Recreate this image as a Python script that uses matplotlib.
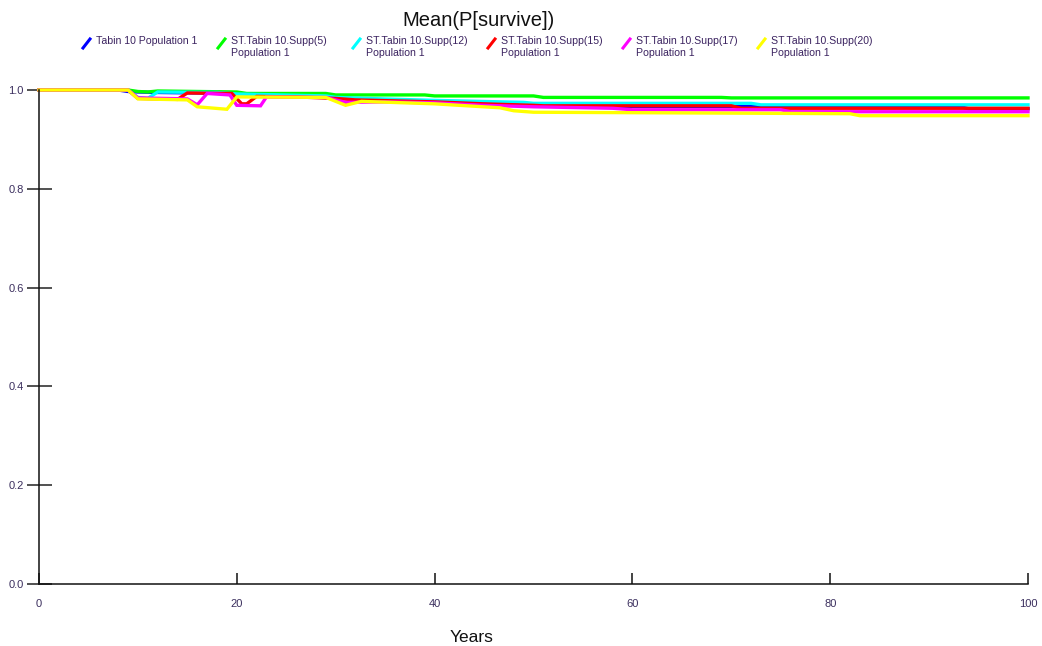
import matplotlib
matplotlib.use("Agg")
import matplotlib.pyplot as plt
from matplotlib.lines import Line2D

plt.rcParams['font.family'] = ['Liberation Sans', 'DejaVu Sans']

# Mean survival probability per scenario: (year, value) breakpoints
series_names = [
    "Tabin 10 Population 1",
    "ST.Tabin 10.Supp(5)\nPopulation 1",
    "ST.Tabin 10.Supp(12)\nPopulation 1",
    "ST.Tabin 10.Supp(15)\nPopulation 1",
    "ST.Tabin 10.Supp(17)\nPopulation 1",
    "ST.Tabin 10.Supp(20)\nPopulation 1",
]
series_colors = ["#0000ff", "#00ff00", "#00ffff", "#ff0000", "#ff00ff", "#ffff00"]

tabin10_years = [0, 8, 9, 10, 12, 20, 25, 30, 35, 40, 45, 50, 55, 93, 94, 100]
tabin10_vals = [1.0, 1.0, 0.997, 0.996, 0.995, 0.993, 0.990, 0.985, 0.978, 0.975,
                0.972, 0.969, 0.967, 0.967, 0.962, 0.962]

supp5_years = [0, 9, 10, 11, 12, 20, 21, 29, 30, 39, 40, 50, 51, 69, 70, 100]
supp5_vals = [1.0, 1.0, 0.997, 0.996, 0.998, 0.996, 0.993, 0.993, 0.990, 0.990,
              0.988, 0.988, 0.985, 0.985, 0.984, 0.984]

supp12_years = [0, 9, 10, 11, 12, 18, 20, 29, 30, 33, 40, 49, 50, 72, 73, 100]
supp12_vals = [1.0, 1.0, 0.985, 0.983, 0.996, 0.995, 0.992, 0.988, 0.985, 0.983,
               0.979, 0.975, 0.973, 0.973, 0.970, 0.970]

supp15_years = [0, 9, 10, 14, 15, 19.5, 20.5, 21, 22, 26, 30, 32, 40, 45, 50, 51,
                70, 71, 100]
supp15_vals = [1.0, 1.0, 0.983, 0.981, 0.994, 0.993, 0.972, 0.972, 0.987, 0.986,
               0.983, 0.980, 0.976, 0.972, 0.969, 0.968, 0.968, 0.963, 0.963]

supp17_years = [0, 9, 10, 15, 16, 17, 19.3, 20, 22.4, 23, 29, 31, 35, 40, 45, 50,
                58, 60, 75, 76, 100]
supp17_vals = [1.0, 1.0, 0.984, 0.982, 0.970, 0.993, 0.990, 0.969, 0.968, 0.986,
               0.985, 0.975, 0.976, 0.974, 0.969, 0.966, 0.963, 0.960, 0.960,
               0.956, 0.956]

supp20_years = [0, 9, 10, 15, 16, 19, 20, 29, 31, 32.6, 40, 46.6, 48, 50, 72, 82,
                83, 100]
supp20_vals = [1.0, 1.0, 0.982, 0.980, 0.966, 0.961, 0.986, 0.985, 0.969, 0.977,
               0.972, 0.964, 0.958, 0.955, 0.953, 0.952, 0.948, 0.948]

all_years = [tabin10_years, supp5_years, supp12_years, supp15_years,
             supp17_years, supp20_years]
all_vals = [tabin10_vals, supp5_vals, supp12_vals, supp15_vals,
            supp17_vals, supp20_vals]

x_ticks = [0, 20, 40, 60, 80, 100]
y_ticks = [0.0, 0.2, 0.4, 0.6, 0.8, 1.0]

W, H = 1042, 646
fig = plt.figure(figsize=(W / 100, H / 100), dpi=100)
ax = fig.add_axes([39 / W, 1 - 584 / H, (1028 - 39) / W, (584 - 90) / H])

for yrs, vals, col in zip(all_years, all_vals, series_colors):
    ax.plot(yrs, vals, color=col, lw=2.4, clip_on=False, solid_joinstyle='miter')

ax.set_xlim(0, 100)
ax.set_ylim(0, 1.0)
for side in ("top", "right"):
    ax.spines[side].set_visible(False)
for side in ("left", "bottom"):
    ax.spines[side].set_color("#111111")
    ax.spines[side].set_linewidth(1.1)

tick_color = "#3b2f5e"
ax.set_xticks(x_ticks)
ax.set_xticklabels([str(v) for v in x_ticks])
ax.set_yticks(y_ticks)
ax.set_yticklabels([f"{v:.1f}" for v in y_ticks])
ax.tick_params(axis="x", direction="in", length=8, width=1.1, color="#111111",
               pad=10.5, labelsize=8, labelcolor=tick_color)
ax.tick_params(axis="y", direction="inout", length=18, width=1.1, color="#222222",
               pad=2, labelsize=8, labelcolor=tick_color)

fig.text(478 / W, 1 - 20 / H, "Mean(P[survive])", ha="center", va="center",
         fontsize=14.5, color="#111111")
fig.text(472 / W, 1 - 637 / H, "Years", ha="center", va="center",
         fontsize=12.5, color="#111111")

# Legend row across the top
legend_text_color = "#3b2360"
for i, (name, col) in enumerate(zip(series_names, series_colors)):
    x0 = 86.5 + 135 * i
    fig.add_artist(Line2D([(x0 - 3.5) / W, (x0 + 3.5) / W],
                          [1 - 48 / H, 1 - 39 / H], color=col, lw=2.2,
                          transform=fig.transFigure))
    fig.text((x0 + 9.5) / W, 1 - 36.5 / H, name, ha="left", va="top",
             fontsize=7.6, color=legend_text_color, linespacing=1.15)

fig.savefig("out.png", dpi=100)
